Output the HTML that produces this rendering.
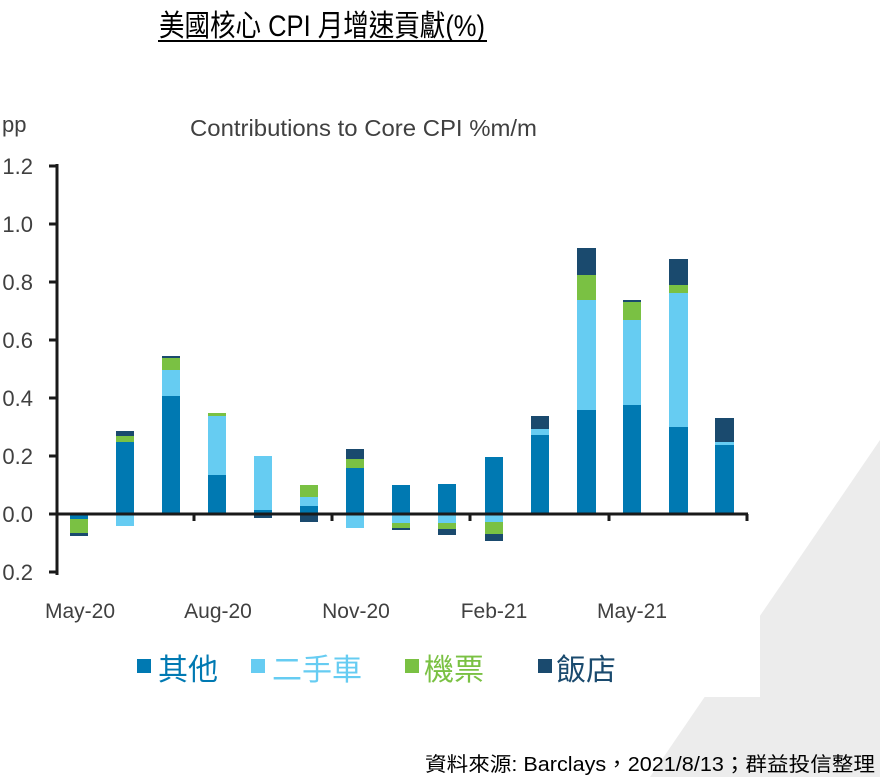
<!DOCTYPE html>
<html><head><meta charset="utf-8"><style>
html,body{margin:0;padding:0;background:#fff;}
svg{display:block}
</style></head><body>
<svg width="880" height="777" viewBox="0 0 880 777" xmlns="http://www.w3.org/2000/svg">
<rect width="880" height="777" fill="#fff"/>
<polygon points="880,440 880,777 650,777" fill="#ececec"/>
<rect x="0" y="0" width="760" height="697" fill="#fff"/>
<g font-family="'Liberation Sans','Noto Sans CJK TC',sans-serif">
<text x="322" y="36" font-size="30" text-anchor="middle" fill="#000" textLength="326" lengthAdjust="spacingAndGlyphs">美國核心 CPI 月增速貢獻(%)</text>
<rect x="158" y="40" width="329" height="2" fill="#000"/>
<text x="190" y="136" font-size="23" fill="#404040" textLength="347" lengthAdjust="spacingAndGlyphs">Contributions to Core CPI %m/m</text>
<text x="2" y="132" font-size="22" fill="#404040">pp</text>
<g font-size="22" fill="#404040" text-anchor="end">
<text x="33" y="174">1.2</text><text x="33" y="232">1.0</text><text x="33" y="290">0.8</text>
<text x="33" y="348">0.6</text><text x="33" y="406">0.4</text><text x="33" y="464">0.2</text>
<text x="33" y="522">0.0</text><text x="33" y="580">0.2</text>
</g>
<g font-size="21" fill="#404040" text-anchor="middle">
<text x="80" y="618">May-20</text><text x="218" y="618">Aug-20</text><text x="356" y="618">Nov-20</text>
<text x="494" y="618">Feb-21</text><text x="632" y="618">May-21</text>
</g>
</g>
<g>
<rect x="70" y="514" width="18" height="5" fill="#0079b2"/><rect x="70" y="519" width="18" height="14" fill="#7ac143"/><rect x="70" y="533" width="18" height="3" fill="#1a4a6e"/>
<rect x="116" y="442" width="18" height="72" fill="#0079b2"/><rect x="116" y="436" width="18" height="6" fill="#7ac143"/><rect x="116" y="431" width="18" height="5" fill="#1a4a6e"/><rect x="116" y="514" width="18" height="12" fill="#66ccf2"/>
<rect x="162" y="396" width="18" height="118" fill="#0079b2"/><rect x="162" y="370" width="18" height="26" fill="#66ccf2"/><rect x="162" y="358" width="18" height="12" fill="#7ac143"/><rect x="162" y="356" width="18" height="2" fill="#1a4a6e"/>
<rect x="208" y="475" width="18" height="39" fill="#0079b2"/><rect x="208" y="416" width="18" height="59" fill="#66ccf2"/><rect x="208" y="413" width="18" height="3" fill="#7ac143"/>
<rect x="254" y="510" width="18" height="4" fill="#0079b2"/><rect x="254" y="456" width="18" height="54" fill="#66ccf2"/><rect x="254" y="514" width="18" height="4" fill="#1a4a6e"/>
<rect x="300" y="506" width="18" height="8" fill="#0079b2"/><rect x="300" y="497" width="18" height="9" fill="#66ccf2"/><rect x="300" y="485" width="18" height="12" fill="#7ac143"/><rect x="300" y="514" width="18" height="8" fill="#1a4a6e"/>
<rect x="346" y="468" width="18" height="46" fill="#0079b2"/><rect x="346" y="459" width="18" height="9" fill="#7ac143"/><rect x="346" y="449" width="18" height="10" fill="#1a4a6e"/><rect x="346" y="514" width="18" height="14" fill="#66ccf2"/>
<rect x="392" y="485" width="18" height="29" fill="#0079b2"/><rect x="392" y="514" width="18" height="9" fill="#66ccf2"/><rect x="392" y="523" width="18" height="5" fill="#7ac143"/><rect x="392" y="528" width="18" height="2" fill="#1a4a6e"/>
<rect x="438" y="484" width="18" height="30" fill="#0079b2"/><rect x="438" y="514" width="18" height="9" fill="#66ccf2"/><rect x="438" y="523" width="18" height="6" fill="#7ac143"/><rect x="438" y="529" width="18" height="6" fill="#1a4a6e"/>
<rect x="485" y="457" width="18" height="57" fill="#0079b2"/><rect x="485" y="514" width="18" height="8" fill="#66ccf2"/><rect x="485" y="522" width="18" height="12" fill="#7ac143"/><rect x="485" y="534" width="18" height="7" fill="#1a4a6e"/>
<rect x="531" y="435" width="18" height="79" fill="#0079b2"/><rect x="531" y="429" width="18" height="6" fill="#66ccf2"/><rect x="531" y="416" width="18" height="13" fill="#1a4a6e"/>
<rect x="577" y="410" width="19" height="104" fill="#0079b2"/><rect x="577" y="300" width="19" height="110" fill="#66ccf2"/><rect x="577" y="275" width="19" height="25" fill="#7ac143"/><rect x="577" y="248" width="19" height="27" fill="#1a4a6e"/>
<rect x="623" y="405" width="18" height="109" fill="#0079b2"/><rect x="623" y="320" width="18" height="85" fill="#66ccf2"/><rect x="623" y="302" width="18" height="18" fill="#7ac143"/><rect x="623" y="300" width="18" height="2" fill="#1a4a6e"/>
<rect x="669" y="427" width="19" height="87" fill="#0079b2"/><rect x="669" y="293" width="19" height="134" fill="#66ccf2"/><rect x="669" y="285" width="19" height="8" fill="#7ac143"/><rect x="669" y="259" width="19" height="26" fill="#1a4a6e"/>
<rect x="715" y="445" width="19" height="69" fill="#0079b2"/><rect x="715" y="442" width="19" height="3" fill="#66ccf2"/><rect x="715" y="418" width="19" height="24" fill="#1a4a6e"/>
</g>
<g stroke="#1a1a1a" stroke-width="3" fill="none">
<line x1="57" y1="164" x2="57" y2="575"/>
<line x1="56" y1="514" x2="748" y2="514"/>
<path d="M49 166H57M49 224H57M49 282H57M49 340H57M49 398H57M49 456H57M49 514H57M49 572H57"/>
<path d="M194 514V521M332 514V521M470 514V521M609 514V521M747 514V521"/>
</g>
<g font-family="'Liberation Sans','Noto Sans CJK TC',sans-serif" font-size="30">
<rect x="137" y="659" width="14" height="14" fill="#0079b2"/><text x="158" y="680" fill="#0079b2">其他</text>
<rect x="251" y="659" width="14" height="14" fill="#66ccf2"/><text x="272" y="680" fill="#66ccf2">二手車</text>
<rect x="405" y="659" width="14" height="14" fill="#7ac143"/><text x="424" y="680" fill="#7ac143">機票</text>
<rect x="538" y="659" width="14" height="14" fill="#1a4a6e"/><text x="556" y="680" fill="#1a4a6e">飯店</text>
</g>
<text x="425" y="771" font-family="'Liberation Sans','Noto Sans CJK TC',sans-serif" font-size="20" fill="#000" textLength="450" lengthAdjust="spacingAndGlyphs">資料來源: Barclays，2021/8/13；群益投信整理</text>
</svg>
</body></html>
